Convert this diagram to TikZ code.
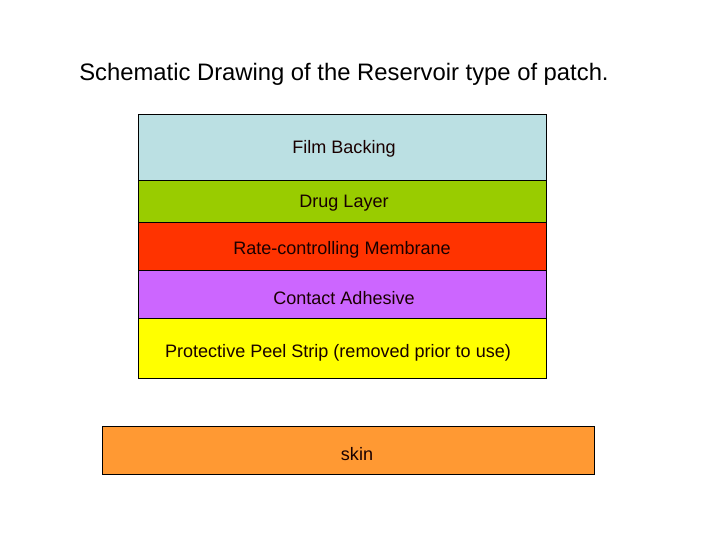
\documentclass[tikz,border=0pt]{standalone}
\usepackage{fontspec}
\setmainfont{Liberation Sans}
\definecolor{film}{HTML}{BBE0E3}
\definecolor{drug}{HTML}{99CC00}
\definecolor{memb}{HTML}{FF3300}
\definecolor{adh}{HTML}{CC66FF}
\definecolor{peel}{HTML}{FFFF00}
\definecolor{skinc}{HTML}{FF9933}
\begin{document}
\begin{tikzpicture}[x=1bp,y=-1bp,
  layer/.style={draw=black, line width=0.8bp},
  lbl/.style={font=\fontsize{18.1}{21}\selectfont, text=black!90!red}]
\useasboundingbox (0,0) rectangle (720,540);
\node[font=\fontsize{23.9}{28}\selectfont] (title) at (344,74) {Schematic Drawing of the Reservoir type of patch.};
\filldraw[layer, fill=film] (138,114) rectangle (546,180);
\filldraw[layer, fill=drug] (138,180) rectangle (546,222);
\filldraw[layer, fill=memb] (138,222) rectangle (546,270);
\filldraw[layer, fill=adh] (138,270) rectangle (546,318);
\filldraw[layer, fill=peel] (138,318) rectangle (546,378);
\filldraw[layer, fill=skinc] (102,426) rectangle (594,474);
\node[lbl] (t1) at (344,149) {Film Backing};
\node[lbl] (t2) at (344,203) {Drug Layer};
\node[lbl] (t3) at (342,250) {Rate-controlling Membrane};
\node[lbl] (t4) at (344,298) {Contact Adhesive};
\node[lbl] (t5) at (338,353) {Protective Peel Strip (removed prior to use)};
\node[lbl] (t6) at (357,454) {skin};
\end{tikzpicture}
\end{document}
